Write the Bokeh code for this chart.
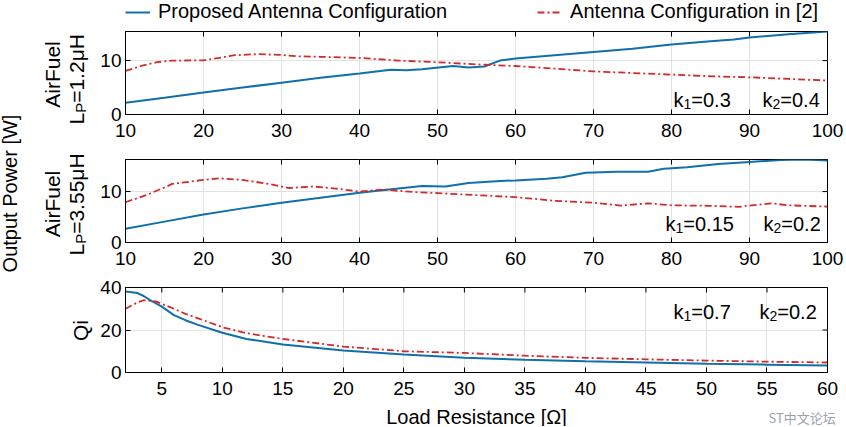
import math
from bokeh.plotting import figure
from bokeh.models import Range1d, FixedTicker, Label, Legend, LegendItem
from bokeh.layouts import row, column
from bokeh.embed import file_html
from bokeh.resources import INLINE

# ---------------- data ----------------
# Panel 1: AirFuel, Lp = 1.2 uH
p1_prop_x = [10, 15, 20, 25, 30, 35, 40, 44, 46, 48, 52, 54, 56, 58, 60, 65, 70, 75, 80, 85, 88, 90, 95, 100]
p1_prop_y = [2.2, 3.1, 4.1, 5.0, 5.9, 6.8, 7.6, 8.3, 8.2, 8.4, 9.0, 8.7, 8.9, 10.0, 10.4, 11.0, 11.6, 12.2, 13.0, 13.6, 13.9, 14.3, 14.9, 15.4]
p1_ref_x = [10, 12, 14, 16, 20, 22, 24, 27, 30, 32, 35, 40, 45, 50, 55, 60, 65, 70, 75, 80, 85, 90, 95, 100]
p1_ref_y = [8.1, 9.0, 9.7, 10.0, 10.05, 10.5, 11.0, 11.2, 11.05, 10.8, 10.7, 10.5, 10.0, 9.7, 9.3, 9.0, 8.5, 8.0, 7.7, 7.4, 7.1, 6.9, 6.6, 6.3]

# Panel 2: AirFuel, Lp = 3.55 uH
p2_prop_x = [10, 15, 20, 25, 30, 35, 40, 45, 48, 51, 54, 57, 60, 64, 66, 69, 73, 77, 79, 82, 86, 90, 94, 97, 100]
p2_prop_y = [2.7, 4.1, 5.5, 6.7, 7.8, 8.8, 9.75, 10.6, 11.1, 11.0, 11.7, 12.0, 12.2, 12.5, 12.8, 13.7, 13.9, 13.9, 14.5, 14.8, 15.4, 15.8, 16.2, 16.3, 16.1]
p2_ref_x = [10, 13, 16, 20, 22, 25, 28, 31, 34, 37, 40, 43, 47, 50, 55, 60, 65, 70, 73.5, 77, 80, 85, 88.6, 92.8, 95, 100]
p2_ref_y = [7.9, 9.5, 11.5, 12.3, 12.6, 12.3, 11.6, 10.7, 11.0, 10.6, 10.0, 10.4, 9.9, 9.7, 9.3, 8.9, 8.2, 7.8, 7.25, 7.7, 7.3, 7.2, 7.0, 7.7, 7.3, 7.05]

# Panel 3: Qi
p3_prop_x = [2, 3, 3.5, 4, 5, 6, 7, 8, 10, 12, 15, 20, 25, 30, 35, 40, 45, 50, 55, 60]
p3_prop_y = [38.1, 37.4, 36.0, 34.2, 31.0, 27.0, 24.5, 22.4, 18.7, 15.8, 13.2, 10.3, 8.5, 6.9, 6.0, 5.3, 4.7, 4.1, 3.7, 3.3]
p3_ref_x = [2, 3, 3.5, 4.5, 5, 6, 7, 8, 10, 12, 15, 20, 25, 30, 35, 40, 45, 50, 55, 60]
p3_ref_y = [30.0, 33.0, 34.0, 33.5, 32.3, 30.0, 27.5, 25.5, 21.3, 18.5, 15.8, 12.2, 10.0, 9.2, 7.9, 6.9, 6.2, 5.6, 5.1, 4.7]

x_ticks_12 = [10, 20, 30, 40, 50, 60, 70, 80, 90, 100]
x_ticks_3 = [5, 10, 15, 20, 25, 30, 35, 40, 45, 50, 55, 60]
y_ticks_12 = [0, 10]
y_ticks_3 = [0, 20, 40]

legend_labels = ["Proposed Antenna Configuration", "Antenna Configuration in [2]"]
k_labels = [(("1", "=0.3"), ("2", "=0.4")),
            (("1", "=0.15"), ("2", "=0.2")),
            (("1", "=0.7"), ("2", "=0.2"))]
lp_values = ["=1.2\u03bcH", "=3.55\u03bcH"]
x_title = "Load Resistance [\u03a9]"
y_title = "Output Power [W]"
watermark = "ST中文论坛"

# ---------------- style ----------------
FONT = "Liberation Sans"
BLUE = "#1170aa"
RED = "#d42a2a"
GRID = "#e2e2e2"
DASHDOT = "7 3 2 3"

# Arial-like advance widths (per 1000 em)
CW = {"k": 500, "=": 584, ".": 278, "L": 556, "P": 667, "\u03bc": 576, "H": 722,
      "A": 667, "i": 222, "r": 333, "F": 611, "u": 556, "e": 556, "l": 222}


def tw(s, size):
    return sum(CW.get(c, 556) for c in s) / 1000.0 * size


def lbl(p, x, y, text, size, align="left", angle=0.0, color="black", font=FONT):
    p.add_layout(Label(x=x, y=y, x_units="screen", y_units="screen", text=text,
                       angle=angle, text_font=font, text_font_size=size,
                       text_align=align, text_baseline="alphabetic", text_color=color))


def style_axis(ax, standoff):
    ax.major_tick_in = 5
    ax.major_tick_out = 0
    ax.minor_tick_line_color = None
    ax.axis_line_color = "black"
    ax.major_tick_line_color = "black"
    ax.major_label_text_font = FONT
    ax.major_label_text_font_size = "19px"
    ax.major_label_text_color = "black"
    ax.major_label_standoff = standoff


def make_panel(height, top, bottom, xr, yr, xt, yt, xstandoff=9):
    p = figure(width=749, height=height, x_range=Range1d(*xr), y_range=Range1d(*yr),
               output_backend="svg", toolbar_location=None,
               min_border_left=30, min_border_right=17,
               min_border_top=top, min_border_bottom=bottom)
    p.xaxis.ticker = FixedTicker(ticks=xt)
    p.yaxis.ticker = FixedTicker(ticks=yt)
    style_axis(p.below[0], xstandoff)
    style_axis(p.left[0], 4)
    p.xgrid.grid_line_color = GRID
    p.ygrid.grid_line_color = GRID
    p.outline_line_color = "black"
    # inward tick marks on the top and right edges (half of each dash is clipped by the frame)
    p.scatter(xt, [yr[1]] * len(xt), marker="dash", angle=math.pi / 2, size=10,
              line_color="black", line_width=1)
    p.scatter([xr[1]] * len(yt), yt, marker="dash", size=10, line_color="black", line_width=1)
    return p


def add_k(p, base_y, starts, items):
    for sx, (sub, rest) in zip(starts, items):
        lbl(p, sx, base_y, "k", "20px")
        x2 = sx + tw("k", 20)
        lbl(p, x2, base_y - 4, sub, "14px")
        lbl(p, x2 + tw(sub, 14), base_y, rest, "20px")


def bare(width, height, **kw):
    f = figure(width=width, height=height, x_range=Range1d(0, 1), y_range=Range1d(0, 1),
               output_backend="svg", toolbar_location=None, x_axis_type=None, y_axis_type=None,
               min_border=0, min_border_left=kw.get("left", 0), min_border_right=0,
               min_border_top=0, min_border_bottom=0)
    f.outline_line_color = None
    return f


# ---------------- legend strip ----------------
pleg = bare(844, 29, left=125)
lr1 = pleg.line(p1_prop_x, p1_prop_y, line_color=BLUE, line_width=2)
lr2 = pleg.line(p1_ref_x, p1_ref_y, line_color=RED, line_width=1.8, line_dash=DASHDOT)
legend = Legend(items=[LegendItem(label=legend_labels[0], renderers=[lr1]),
                       LegendItem(label=legend_labels[1], renderers=[lr2])],
                orientation="horizontal", location="top_left",
                border_line_color=None, background_fill_alpha=0,
                padding=3, margin=0, spacing=90, glyph_width=25, glyph_height=18,
                label_height=18, label_standoff=8,
                label_text_font=FONT, label_text_font_size="20px", label_text_color="black")
pleg.add_layout(legend, "center")

# ---------------- panel 1 ----------------
p1 = make_panel(121, 2, 36, (10, 100), (0, 15.4), x_ticks_12, y_ticks_12)
p1.line(p1_prop_x, p1_prop_y, line_color=BLUE, line_width=2)
p1.line(p1_ref_x, p1_ref_y, line_color=RED, line_width=1.8, line_dash=DASHDOT)
add_k(p1, 14.5, [548, 637], k_labels[0])

# ---------------- panel 2 ----------------
p2 = make_panel(127, 9, 35, (10, 100), (0, 16.3), x_ticks_12, y_ticks_12)
p2.line(p2_prop_x, p2_prop_y, line_color=BLUE, line_width=2)
p2.line(p2_ref_x, p2_ref_y, line_color=RED, line_width=1.8, line_dash=DASHDOT)
add_k(p2, 19, [540, 638], k_labels[1])

# ---------------- panel 3 ----------------
p3 = make_panel(127, 10, 32, (2, 60), (0, 40), x_ticks_3, y_ticks_3, xstandoff=9)
p3.line(p3_prop_x, p3_prop_y, line_color=BLUE, line_width=2)
p3.line(p3_ref_x, p3_ref_y, line_color=RED, line_width=1.8, line_dash=DASHDOT)
add_k(p3, 61, [548, 634], k_labels[2])

# ---------------- left label strip ----------------
left = bare(95, 375)
A = math.pi / 2
lbl(left, 9, 211, y_title, "20px", align="center", angle=A)


def lp_label(f, x, y0, value):
    lbl(f, x, y0, "L", "21px", angle=A)
    y1 = y0 + tw("L", 21)
    lbl(f, x + 4, y1, "P", "15px", angle=A)
    lbl(f, x, y1 + tw("P", 15), value, "21px", angle=A)


lbl(left, 52, 330, "AirFuel", "21px", align="center", angle=A)
lp_label(left, 76, 280, lp_values[0])
lbl(left, 52, 200.5, "AirFuel", "21px", align="center", angle=A)
lp_label(left, 76, 149, lp_values[1])
lbl(left, 80, 74, "Qi", "21px", align="center", angle=A)

# ---------------- bottom strip (frame aligned with the legend strip, starts at x=125) ----------------
bottom = bare(844, 22, left=125)
lbl(bottom, 351, 10, x_title, "20px", align="center")
lbl(bottom, 643, 9, watermark, "13px", color="#9aa3ad", font="Noto Sans CJK SC")

layout = column(pleg, row(left, column(p1, p2, p3, spacing=0), spacing=0), bottom, spacing=0)
open("out.html", "w").write(file_html(layout, INLINE))
